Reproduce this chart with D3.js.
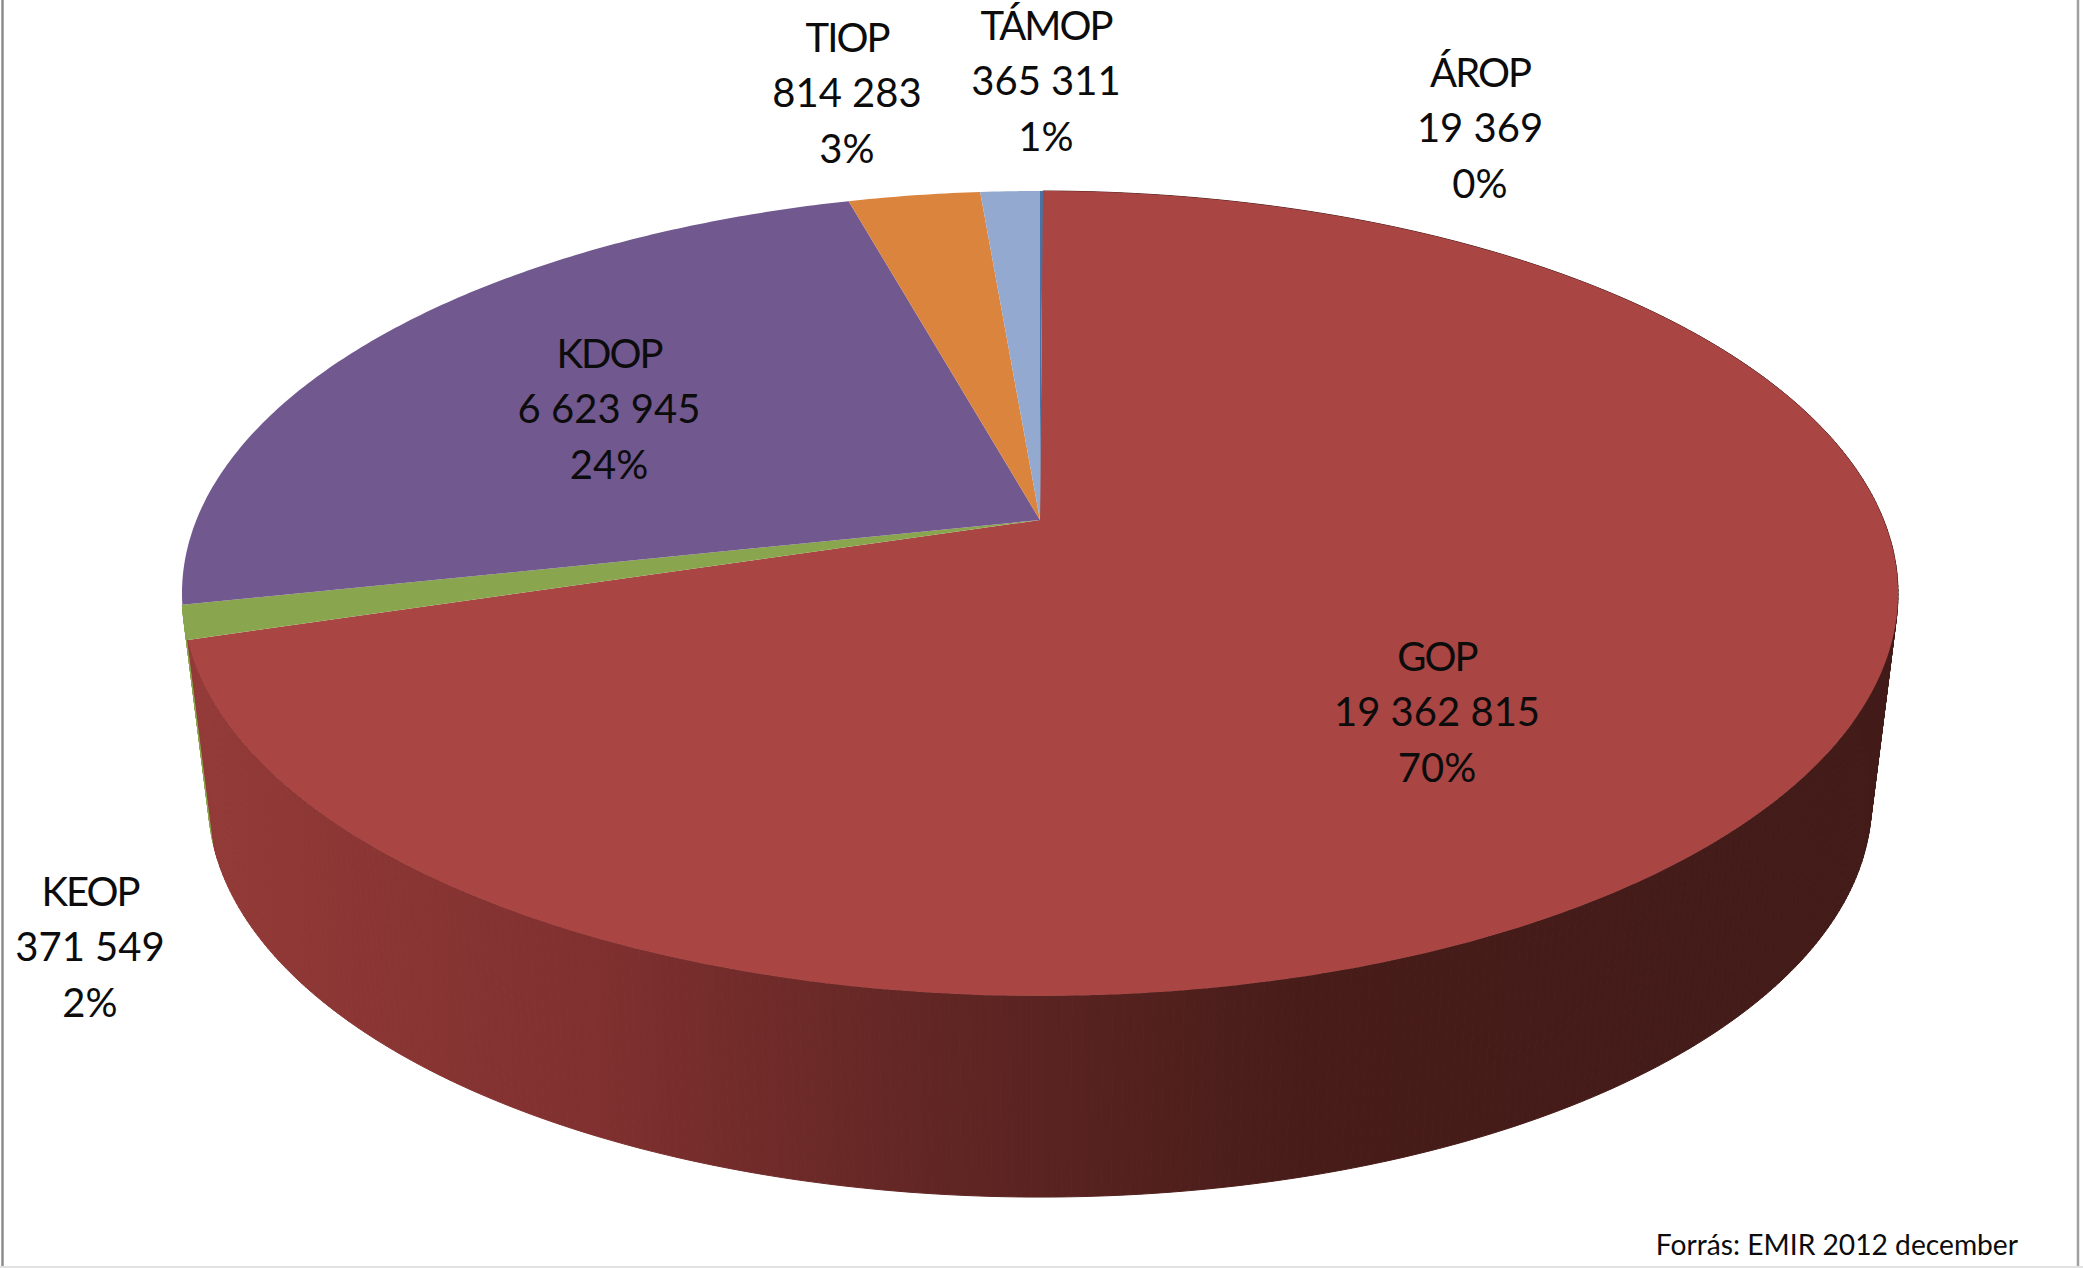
<!DOCTYPE html>
<html><head><meta charset="utf-8">
<script src="https://cdn.jsdelivr.net/npm/d3@7/dist/d3.min.js"></script>
<style>html,body{margin:0;padding:0;background:#fff}svg{display:block}text{font-family:Lato,"Open Sans",sans-serif;fill:#0c0c0c}</style>
</head><body><svg id="c" width="2083" height="1268"></svg>
<script>
// DATA
const categories = ["GOP","KEOP","KDOP","TIOP","TÁMOP","ÁROP"];
const values = [19362815,371549,6623945,814283,365311,19369];
const percentLabels = ["70%","2%","24%","3%","1%","0%"];
const sourceNote = "Forrás: EMIR 2012 december";

// STYLE
const colors = ["#a94543","#89a54e","#71588f","#db843d","#93a9cf","#4572a7"];
const W = 2083, H = 1268;
// label anchor: centre x, first baseline y
const labelAt = {GOP:[1437,671],KEOP:[90,906],KDOP:[609,368],TIOP:[847,52],"TÁMOP":[1046,40],"ÁROP":[1480,87]};

const svg = d3.select("#c");
svg.append("rect").attr("width",W).attr("height",H).attr("fill","#fff");

// Perspective disc: homography of the unit circle, so slices keep true angle shares
const k = 0.18;
const topDisc = {cx:1040, cy:521, a:844, b:389.4};
const lowDisc = {cx:1040, cy:730, a:818, b:383};
const proj = (d,t)=>{const u=Math.sin(t),v=Math.cos(t),w=1+k*v;return [d.cx+d.a*u/w,d.cy-d.b*v/w];};
const rim = (d,a0,a1)=>{const n=Math.max(2,Math.ceil((a1-a0)/0.01));return d3.range(n+1).map(i=>proj(d,a0+(a1-a0)*i/n));};
const line = d3.line();

const turn = 0.004;
const arcs = d3.pie().value(v=>v).sort(null).startAngle(turn).endAngle(2*Math.PI+turn)(values);

// Side wall gradient
const defs = svg.append("defs");
const g = defs.append("linearGradient").attr("id","side").attr("gradientUnits","userSpaceOnUse")
  .attr("x1",200).attr("x2",1900).attr("y1",0).attr("y2",0);
[[0,"#933a38"],[0.235,"#7f302f"],[0.41,"#642725"],[0.65,"#471c19"],[1,"#421b18"]]
  .forEach(s=>g.append("stop").attr("offset",s[0]).attr("stop-color",s[1]));

// walls: KEOP sliver behind, then GOP, drawn as quads so the silhouette stays filled
[1,0].forEach(i=>{
  const a=arcs[i];
  const top=rim(topDisc,a.startAngle,a.endAngle), low=rim(lowDisc,a.startAngle,a.endAngle);
  const paint = i===0?"url(#side)":colors[i];
  const wall = svg.append("g").attr("fill",paint).attr("stroke",paint).attr("stroke-width",1);
  d3.range(top.length-1).forEach(j=>{
    wall.append("path").attr("d",line([top[j],top[j+1],low[j+1],low[j]])+"Z");
  });
});

// top faces
const apex=[topDisc.cx,topDisc.cy-1];
svg.append("g").selectAll("path").data(arcs).join("path")
  .attr("d",a=>line([apex].concat(rim(topDisc,a.startAngle,a.endAngle)))+"Z")
  .attr("fill",(a,i)=>colors[i]);

// labels
const fmt = v=>d3.format(",")(v).replace(/,/g," ");
const lab = svg.append("g").attr("font-size",40).attr("text-anchor","middle");
categories.forEach((c,i)=>{
  const [x,y]=labelAt[c];
  [c,fmt(values[i]),percentLabels[i]].forEach((t,j)=>
    lab.append("text").attr("x",x).attr("y",y+j*55.3).attr("letter-spacing",j===0?-2:0).text(t));
});
svg.append("text").attr("x",2018).attr("y",1255).attr("text-anchor","end").attr("font-size",28.2).text(sourceNote);

// frame
svg.append("line").attr("x1",2.5).attr("x2",2.5).attr("y1",0).attr("y2",H).attr("stroke","#8c8c8c").attr("stroke-width",2.5);
svg.append("line").attr("x1",2078).attr("x2",2078).attr("y1",0).attr("y2",H).attr("stroke","#a0a0a0").attr("stroke-width",2.5);
svg.append("line").attr("x1",0).attr("x2",W).attr("y1",1267).attr("y2",1267).attr("stroke","#e2e2e2").attr("stroke-width",2);
</script></body></html>
